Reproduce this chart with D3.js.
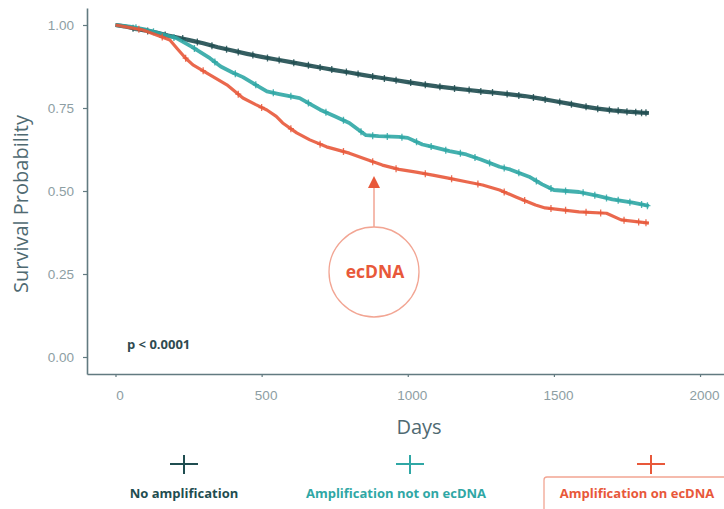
<!DOCTYPE html>
<html>
<head>
<meta charset="utf-8">
<script src="https://cdn.jsdelivr.net/npm/d3@7"></script>
<style>
  body { margin: 0; background: #fff; }
  svg { display: block; font-family: "Open Sans", sans-serif; }
</style>
</head>
<body>
<div id="chart"></div>
<script>
// survival curves (day, survival)
const noAmpDays = [0, 30, 60, 100, 140, 180, 220, 260, 300, 350, 400, 450, 500, 550, 600, 650, 700, 750, 800, 850, 900, 950, 1000, 1050, 1100, 1150, 1200, 1250, 1300, 1350, 1400, 1450, 1500, 1550, 1600, 1650, 1700, 1750, 1800, 1825];
const noAmpSurv = [1.0, .996, .99, .984, .977, .968, .961, .953, .945, .933, .923, .913, .904, .896, .888, .88, .872, .864, .857, .849, .842, .835, .828, .821, .815, .81, .805, .8, .796, .791, .786, .779, .771, .763, .755, .748, .743, .739, .736, .735];
const noAmpCens = [60, 110, 170, 230, 280, 330, 380, 420, 470, 520, 560, 610, 660, 700, 740, 790, 830, 880, 920, 960, 1010, 1060, 1110, 1160, 1210, 1250, 1290, 1340, 1380, 1430, 1470, 1520, 1560, 1610, 1650, 1690, 1720, 1750, 1780, 1800, 1815];

const notEcDays = [0, 50, 100, 150, 210, 260, 323, 360, 400, 436, 480, 518, 560, 630, 700, 750, 800, 830, 857, 900, 970, 1000, 1050, 1085, 1143, 1200, 1250, 1314, 1350, 1415, 1460, 1500, 1586, 1650, 1700, 1770, 1825];
const notEcSurv = [1.0, .995, .987, .975, .96, .935, .90, .875, .857, .843, .82, .80, .792, .78, .745, .725, .705, .685, .668, .665, .663, .66, .64, .633, .62, .61, .595, .573, .565, .543, .52, .503, .497, .485, .475, .465, .455];
const notEcCens = [70, 130, 200, 270, 340, 410, 480, 540, 600, 660, 720, 780, 840, 880, 930, 980, 1030, 1080, 1130, 1180, 1230, 1280, 1330, 1380, 1440, 1490, 1540, 1600, 1640, 1680, 1720, 1760, 1800, 1820];

const ecDays = [0, 50, 94, 140, 186, 210, 240, 265, 323, 381, 436, 480, 518, 550, 572, 620, 665, 722, 800, 850, 913, 970, 1029, 1090, 1143, 1200, 1256, 1314, 1370, 1437, 1470, 1586, 1680, 1730, 1825];
const ecSurv = [1.0, .992, .985, .97, .955, .93, .90, .88, .85, .82, .78, .76, .744, .725, .705, .675, .654, .633, .614, .598, .578, .565, .557, .547, .538, .528, .518, .503, .482, .458, .449, .437, .433, .413, .403];
const ecCens = [80, 160, 240, 300, 420, 500, 600, 700, 780, 880, 960, 1060, 1150, 1240, 1330, 1400, 1490, 1540, 1610, 1660, 1740, 1790, 1815];

const groups = ["No amplification", "Amplification not on ecDNA", "Amplification on ecDNA"];
const colors = ["#1f4d50", "#2fa7a5", "#e8583a"];
const xTicks = [0, 500, 1000, 1500, 2000];
const yTicks = [0, 0.25, 0.5, 0.75, 1.0];

const series = [
  { name: groups[0], days: noAmpDays, surv: noAmpSurv, cens: noAmpCens, color: colors[0], w: 4.2 },
  { name: groups[1], days: notEcDays, surv: notEcSurv, cens: notEcCens, color: colors[1], w: 3.8 },
  { name: groups[2], days: ecDays, surv: ecSurv, cens: ecCens, color: colors[2], w: 3.2 }
];

const width = 724, height = 509;
const axisCol = "#627a80", tickCol = "#8d9ea3";

const svg = d3.select("#chart").append("svg")
  .attr("width", width).attr("height", height);

const x = d3.scaleLinear().domain([-97.5, 2082]).range([87, 724]);
const y = d3.scaleLinear().domain([-0.0512, 1.0512]).range([374, 8]);

// axes
const xAxis = svg.append("g")
  .attr("transform", "translate(0,374)")
  .call(d3.axisBottom(x).tickValues(xTicks).tickFormat(d3.format("d")).tickSize(3).tickSizeOuter(0));
const yAxis = svg.append("g")
  .attr("transform", "translate(87,0)")
  .call(d3.axisLeft(y).tickValues(yTicks).tickFormat(d3.format(".2f")).tickSize(4).tickSizeOuter(0));

[xAxis, yAxis].forEach(g => {
  g.select(".domain").attr("stroke", axisCol).attr("stroke-width", 1.6);
  g.selectAll(".tick line").attr("stroke", axisCol).attr("stroke-width", 1.2);
  g.selectAll(".tick text").attr("fill", tickCol).style("font-size", "13.5px");
});
xAxis.selectAll(".tick text").attr("dy", "1.45em").attr("dx", 4);
yAxis.selectAll(".tick text").attr("dx", "-0.45em");

// curves
const line = d3.line().x(d => x(d[0])).y(d => y(d[1]));
const valueAt = (s, day) => {
  const i = d3.bisectRight(s.days, day) - 1;
  if (i >= s.days.length - 1) return s.surv[s.surv.length - 1];
  const t = (day - s.days[i]) / (s.days[i + 1] - s.days[i]);
  return s.surv[i] + t * (s.surv[i + 1] - s.surv[i]);
};

const plot = svg.append("g").attr("class", "plot");
series.forEach(s => {
  const pts = s.days.map((d, i) => [d, s.surv[i]]);
  plot.append("path")
    .attr("d", line(pts))
    .attr("fill", "none")
    .attr("stroke", s.color)
    .attr("stroke-width", s.w)
    .attr("stroke-linejoin", "round")
    .attr("opacity", 0.9);

  plot.append("g").selectAll("path")
    .data(s.cens)
    .join("path")
    .attr("d", d => {
      const cx = x(d), cy = y(valueAt(s, d));
      return `M${cx - 3},${cy}H${cx + 3}M${cx},${cy - 3.5}V${cy + 3.5}`;
    })
    .attr("stroke", s.color)
    .attr("stroke-width", 1.3)
    .attr("opacity", 0.85);
});

// p-value
svg.append("text")
  .attr("x", 127).attr("y", 349)
  .attr("fill", "#2f4a50")
  .style("font-size", "13px").style("font-weight", "bold")
  .text("p < 0.0001");

// axis titles
svg.append("text")
  .attr("transform", "translate(28,204) rotate(-90)")
  .attr("text-anchor", "middle")
  .attr("fill", "#4f6a72")
  .style("font-size", "20px")
  .text("Survival Probability");

svg.append("text")
  .attr("x", 419).attr("y", 434)
  .attr("text-anchor", "middle")
  .attr("fill", "#4f6a72")
  .style("font-size", "20px")
  .text("Days");

// ecDNA annotation
const red = colors[2], salmon = "#f2a593";
svg.append("line")
  .attr("x1", 374).attr("x2", 374).attr("y1", 186).attr("y2", 227)
  .attr("stroke", salmon).attr("stroke-width", 1.5);
svg.append("path")
  .attr("d", "M374,176L380,188L368,188Z")
  .attr("fill", red);
svg.append("circle")
  .attr("cx", 374).attr("cy", 272).attr("r", 45)
  .attr("fill", "none").attr("stroke", salmon).attr("stroke-width", 1.3);
svg.append("text")
  .attr("x", 375).attr("y", 278)
  .attr("text-anchor", "middle")
  .attr("fill", red)
  .style("font-size", "17.5px").style("font-weight", "bold")
  .text("ecDNA");

// legend
const legendX = [184, 410, 651];
const labelX = [184, 396, 637];
svg.append("rect")
  .attr("x", 544).attr("y", 477).attr("width", 200).attr("height", 60).attr("rx", 3)
  .attr("fill", "none").attr("stroke", salmon).attr("stroke-width", 1.3);

const legend = svg.append("g").attr("class", "legend");
series.forEach((s, i) => {
  const cx = legendX[i];
  legend.append("path")
    .attr("d", `M${cx - 14},464H${cx + 14}M${cx},455V474`)
    .attr("stroke", s.color).attr("stroke-width", 2);
  legend.append("text")
    .attr("x", labelX[i]).attr("y", 498)
    .attr("text-anchor", "middle")
    .attr("fill", s.color)
    .style("font-size", "13px").style("font-weight", "bold")
    .text(s.name);
});
</script>
</body>
</html>
